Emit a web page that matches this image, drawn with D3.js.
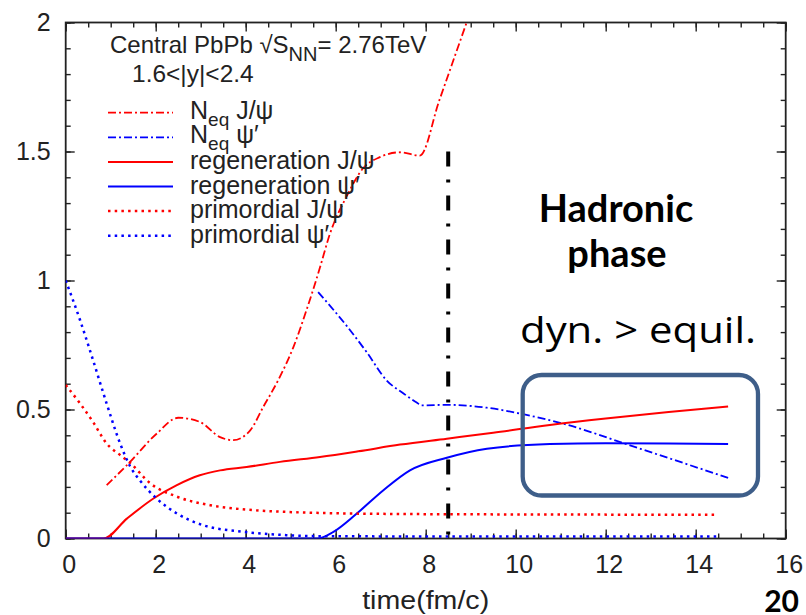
<!DOCTYPE html>
<html>
<head>
<meta charset="utf-8">
<script src="https://cdn.jsdelivr.net/npm/d3@7"></script>
<style>
  body { margin: 0; background: #fff; }
  svg { display: block; }
</style>
</head>
<body>
<script>
// values: time (fm/c) and yield for each curve
var neqJpsiT = [0.91, 1.36, 2.02, 2.50, 2.98, 3.43, 3.72, 4.10, 4.39, 4.72, 5.06, 5.36, 5.50, 5.65, 5.87, 6.24, 6.61, 6.98, 7.43, 7.87, 8.30, 8.91, 9.10];
var neqJpsiV = [0.207, 0.284, 0.406, 0.468, 0.452, 0.393, 0.381, 0.419, 0.51, 0.613, 0.742, 0.89, 0.965, 1.05, 1.18, 1.325, 1.435, 1.478, 1.497, 1.484, 1.697, 2.0, 2.094];

var neqPsi2sT = [5.61, 6.24, 6.69, 7.13, 7.50, 7.80, 7.91, 8.47, 9.36, 10.1, 11.06, 12.54, 14.72];
var neqPsi2sV = [0.955, 0.825, 0.722, 0.613, 0.563, 0.527, 0.516, 0.518, 0.507, 0.484, 0.445, 0.361, 0.235];

var regenJpsiT = [0, 0.84, 1.36, 1.95, 2.46, 2.98, 3.43, 4.02, 4.76, 5.65, 6.5, 7.43, 8.47, 9.5, 10.76, 12.0, 13.4, 14.72];
var regenJpsiV = [0, 0, 0.077, 0.155, 0.206, 0.245, 0.264, 0.277, 0.297, 0.316, 0.338, 0.364, 0.387, 0.41, 0.44, 0.465, 0.49, 0.512];

var regenPsi2sT = [0, 5.6, 5.95, 6.47, 7.06, 7.65, 8.47, 9.36, 10.76, 12.0, 13.4, 14.72];
var regenPsi2sV = [0, 0, 0.026, 0.097, 0.187, 0.264, 0.313, 0.348, 0.366, 0.369, 0.368, 0.366];

var primJpsiT = [0, 0.32, 0.61, 0.91, 1.2, 1.45, 1.87, 2.46, 3.21, 4.02, 5.06, 5.65, 7.43, 10.76, 14.47];
var primJpsiV = [0.595, 0.523, 0.451, 0.368, 0.325, 0.29, 0.215, 0.163, 0.129, 0.112, 0.102, 0.099, 0.095, 0.093, 0.092];

var primPsi2sT = [0, 0.32, 0.61, 0.91, 1.21, 1.43, 1.65, 2.02, 2.47, 3.06, 3.95, 4.91, 5.65, 8, 11, 14.5];
var primPsi2sV = [1.0, 0.846, 0.69, 0.523, 0.368, 0.28, 0.225, 0.155, 0.097, 0.051, 0.026, 0.013, 0.009, 0.008, 0.008, 0.008];

var xTicks = [0, 2, 4, 6, 8, 10, 12, 14, 16];
var yTicks = [0, 0.5, 1, 1.5, 2];
var yTickLabels = ["0", "0.5", "1", "1.5", "2"];

var hadronStart = 8.5;   // vertical dash-dot marker (fm/c)

var w = 806;
var h = 615;
var plotL = 65.7, plotR = 785.7, plotT = 22.5, plotB = 538.5;

var svg = d3.select("body").append("svg")
    .attr("width", w)
    .attr("height", h);

var x = d3.scaleLinear().domain([0, 16]).range([plotL, plotR]);
var y = d3.scaleLinear().domain([0, 2]).range([plotB, plotT]);

var tickFont = "'Liberation Sans', Arial, sans-serif";

// minor ticks (every 0.5 on x, 0.1 on y), on all four sides, pointing inward
var xMinor = d3.range(0, 16.01, 0.5);
var yMinor = d3.range(0, 2.001, 0.1);

function minorAxis(axisFn, scale, values, tx, ty) {
    svg.append("g")
        .attr("transform", "translate(" + tx + "," + ty + ")")
        .call(axisFn(scale).tickValues(values).tickSize(-5).tickFormat(""))
        .call(function (g) { g.select(".domain").remove(); })
        .selectAll("line").attr("stroke", "#222").attr("stroke-width", 1.4);
}
minorAxis(d3.axisBottom, x, xMinor, 0, plotB);
minorAxis(d3.axisTop, x, xMinor, 0, plotT);
minorAxis(d3.axisLeft, y, yMinor, plotL, 0);
minorAxis(d3.axisRight, y, yMinor, plotR, 0);

// major ticks with labels
var xAxis = svg.append("g")
    .attr("transform", "translate(0," + plotB + ")")
    .call(d3.axisBottom(x).tickValues(xTicks).tickSize(-9).tickPadding(17).tickFormat(d3.format("d")));
var yAxis = svg.append("g")
    .attr("transform", "translate(" + plotL + ",0)")
    .call(d3.axisLeft(y).tickValues(yTicks).tickSize(-9).tickPadding(15)
        .tickFormat(function (d, i) { return yTickLabels[i]; }));
svg.append("g")
    .attr("transform", "translate(0," + plotT + ")")
    .call(d3.axisTop(x).tickValues(xTicks).tickSize(-9).tickFormat(""));
svg.append("g")
    .attr("transform", "translate(" + plotR + ",0)")
    .call(d3.axisRight(y).tickValues(yTicks).tickSize(-9).tickFormat(""));

svg.selectAll(".domain").remove();
svg.selectAll(".tick line").attr("stroke", "#222").attr("stroke-width", 1.4);
svg.selectAll(".tick text")
    .attr("font-family", tickFont)
    .attr("font-size", 25)
    .attr("fill", "#222");
xAxis.selectAll(".tick text").attr("dx", 3);

// frame
svg.append("rect")
    .attr("x", plotL).attr("y", plotT)
    .attr("width", plotR - plotL).attr("height", plotB - plotT)
    .attr("fill", "none")
    .attr("stroke", "#222")
    .attr("stroke-width", 1.8);

// axis title
svg.append("text")
    .attr("x", x(8)).attr("y", 609)
    .attr("text-anchor", "middle")
    .attr("font-family", tickFont)
    .attr("font-size", 25)
    .attr("fill", "#222")
    .attr("textLength", 127)
    .attr("lengthAdjust", "spacingAndGlyphs")
    .text("time(fm/c)");

// curves
svg.append("clipPath").attr("id", "plotClip")
    .append("rect")
    .attr("x", plotL).attr("y", plotT)
    .attr("width", plotR - plotL).attr("height", plotB - plotT);

var series = [
    { t: neqJpsiT, v: neqJpsiV, color: "#ff0000", dash: "8,3,2,3", width: 1.8 },
    { t: neqPsi2sT, v: neqPsi2sV, color: "#0000ff", dash: "8,3,2,3", width: 1.8 },
    { t: regenJpsiT, v: regenJpsiV, color: "#ff0000", dash: null, width: 2 },
    { t: regenPsi2sT, v: regenPsi2sV, color: "#0000ff", dash: null, width: 2 },
    { t: primJpsiT, v: primJpsiV, color: "#ff0000", dash: "2.5,4.2", width: 2.5 },
    { t: primPsi2sT, v: primPsi2sV, color: "#0000ff", dash: "2.5,4.2", width: 2.5 }
];

var line = d3.line()
    .x(function (d) { return x(d[0]); })
    .y(function (d) { return y(d[1]); })
    .curve(d3.curveMonotoneX);

var curves = svg.append("g").attr("clip-path", "url(#plotClip)");
series.forEach(function (s) {
    var pts = s.t.map(function (t, i) { return [t, s.v[i]]; });
    curves.append("path")
        .attr("d", line(pts))
        .attr("fill", "none")
        .attr("stroke", s.color)
        .attr("stroke-width", s.width)
        .attr("stroke-dasharray", s.dash);
});

// legend
var legendNames = [
    ["N", "eq", " J/ψ"],
    ["N", "eq", " ψ′"],
    ["regeneration J/ψ"],
    ["regeneration ψ′"],
    ["primordial J/ψ"],
    ["primordial ψ′"]
];

svg.append("text")
    .attr("x", 110).attr("y", 52.5)
    .attr("font-family", tickFont)
    .attr("font-size", 24)
    .attr("fill", "#222")
    .call(function (t) {
        t.append("tspan").text("Central PbPb √S");
        t.append("tspan").attr("dy", 8).attr("font-size", 20).text("NN");
        t.append("tspan").attr("dy", -8).text("= 2.76TeV");
    });
svg.append("text")
    .attr("x", 132).attr("y", 81.5)
    .attr("font-family", tickFont)
    .attr("font-size", 24.5)
    .attr("fill", "#222")
    .text("1.6<|y|<2.4");

var legend = svg.append("g");
series.forEach(function (s, i) {
    var ly = 112.7 + i * 24.6;
    legend.append("line")
        .attr("x1", 108).attr("x2", 173)
        .attr("y1", ly).attr("y2", ly)
        .attr("stroke", s.color)
        .attr("stroke-width", s.width)
        .attr("stroke-dasharray", s.dash);
    var txt = legend.append("text")
        .attr("x", 190).attr("y", ly + 7)
        .attr("font-family", tickFont)
        .attr("font-size", 25)
        .attr("fill", "#222");
    var parts = legendNames[i];
    if (parts.length === 3) {
        txt.attr("y", ly + 6);
        txt.append("tspan").text(parts[0]);
        txt.append("tspan").attr("dy", 7).attr("font-size", 19).text(parts[1]);
        txt.append("tspan").attr("dy", -7).text(parts[2]);
    } else {
        txt.text(parts[0]);
    }
});

// hadronic phase marker
svg.append("line")
    .attr("x1", x(hadronStart)).attr("x2", x(hadronStart))
    .attr("y1", y(1.5)).attr("y2", plotB)
    .attr("stroke", "#000")
    .attr("stroke-width", 4)
    .attr("stroke-dasharray", "15,13,3,13");

svg.append("text")
    .attr("x", 616).attr("y", 222)
    .attr("text-anchor", "middle")
    .attr("font-family", "Lato, sans-serif")
    .attr("font-weight", "bold")
    .attr("font-size", 38)
    .attr("fill", "#000")
    .text("Hadronic");
svg.append("text")
    .attr("x", 617).attr("y", 267)
    .attr("text-anchor", "middle")
    .attr("font-family", "Lato, sans-serif")
    .attr("font-weight", "bold")
    .attr("font-size", 38)
    .attr("fill", "#000")
    .text("phase");
svg.append("text")
    .attr("x", 520).attr("y", 343)
    .attr("font-family", "'Open Sans', sans-serif")
    .attr("font-size", 36)
    .attr("fill", "#000")
    .attr("textLength", 236)
    .attr("lengthAdjust", "spacingAndGlyphs")
    .text("dyn. > equil.");

svg.append("rect")
    .attr("x", 522.7).attr("y", 375)
    .attr("width", 235.3).attr("height", 120.5)
    .attr("rx", 19).attr("ry", 19)
    .attr("fill", "none")
    .attr("stroke", "#3e5e89")
    .attr("stroke-width", 4.3);

// slide number
svg.append("text")
    .attr("x", 799).attr("y", 612)
    .attr("text-anchor", "end")
    .attr("font-family", "Lato, sans-serif")
    .attr("font-weight", "bold")
    .attr("font-size", 30)
    .attr("fill", "#000")
    .text("20");
</script>
</body>
</html>
